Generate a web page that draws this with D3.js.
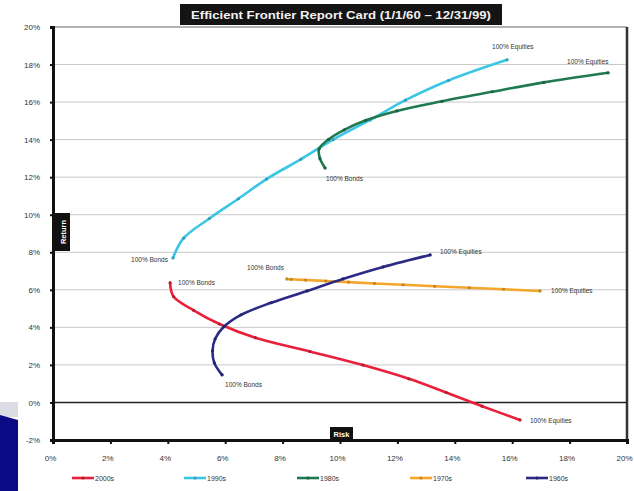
<!DOCTYPE html>
<html>
<head>
<meta charset="utf-8">
<script src="https://cdn.jsdelivr.net/npm/d3@7"></script>
<style>
  html, body { margin: 0; padding: 0; background: #fff; }
  svg { display: block; font-family: "Liberation Sans", Arial, sans-serif; }
</style>
</head>
<body>
<svg id="chart" width="634" height="491"></svg>
<script>
// Risk (std. dev., %) and return (%) for each decade's stock/bond mix,
// from 100% bonds to 100% equities in 10% steps.
const decades = ["2000s", "1990s", "1980s", "1970s", "1960s"];
const colors = ["#e8203a", "#3cc6e6", "#1f7a52", "#f4a52a", "#2b2b85"];

const risk2000s = [4.08, 4.2, 4.9, 5.8, 7.05, 8.95, 10.8, 12.4, 13.7, 14.95, 16.27];
const ret2000s  = [6.37, 5.64, 4.91, 4.18, 3.45, 2.72, 1.99, 1.26, 0.53, -0.20, -0.93];

const risk1990s = [4.18, 4.55, 5.45, 6.46, 7.44, 8.63, 9.76, 11.05, 12.28, 13.78, 15.82];
const ret1990s  = [7.7, 8.75, 9.8, 10.85, 11.9, 12.95, 14.0, 15.05, 16.1, 17.15, 18.25];

const risk1980s = [9.48, 9.3, 9.27, 9.6, 10.15, 10.9, 11.98, 13.55, 15.3, 17.1, 19.34];
const ret1980s  = [12.49, 13.0, 13.5, 14.01, 14.52, 15.03, 15.53, 16.04, 16.55, 17.05, 17.56];

const risk1970s = [8.15, 8.3, 8.8, 9.5, 10.3, 11.2, 12.2, 13.3, 14.5, 15.7, 16.97];
const ret1970s  = [6.58, 6.56, 6.52, 6.47, 6.41, 6.34, 6.27, 6.19, 6.11, 6.03, 5.94];

const risk1960s = [5.89, 5.62, 5.56, 5.65, 5.95, 6.55, 7.6, 8.85, 10.1, 11.5, 13.14];
const ret1960s  = [1.47, 2.11, 2.75, 3.39, 4.03, 4.67, 5.31, 5.94, 6.58, 7.22, 7.86];

const riskSeries = [risk2000s, risk1990s, risk1980s, risk1970s, risk1960s];
const returnSeries = [ret2000s, ret1990s, ret1980s, ret1970s, ret1960s];

const xTicks = [0, 2, 4, 6, 8, 10, 12, 14, 16, 18, 20];
const yTicks = [-2, 0, 2, 4, 6, 8, 10, 12, 14, 16, 18, 20];

const title = "Efficient Frontier Report Card (1/1/60 \u2013 12/31/99)";
const bondLabel = "100% Bonds";
const equityLabel = "100% Equities";

// label offsets for each decade's end points: [dx, dy, anchor]
const bondLabelPos = [[8, 2, "start"], [-5, 4, "end"], [1, 13, "start"], [-3, -9, "end"], [3, 12, "start"]];
const equityLabelPos = [[10, 3, "start"], [-15, -11, "start"], [-41, -9, "start"], [11, 2, "start"], [10, -1, "start"]];

const svg = d3.select("#chart");
const plotLeft = 53, plotRight = 627, plotTop = 27, plotBottom = 440;

const x = d3.scaleLinear().domain([0, 20]).range([plotLeft, plotRight]);
const y = d3.scaleLinear().domain([-2, 20]).range([plotBottom, plotTop]);

// slide background strip at lower left
svg.append("rect").attr("x", 0).attr("y", 402).attr("width", 18).attr("height", 15).attr("fill", "#dcdce4");
svg.append("path").attr("d", "M0,415 L18,420 L18,491 L0,491 Z").attr("fill", "#0a0a84");

// grid
svg.append("g").selectAll("line").data(yTicks.filter(d => d !== 0 && d !== -2 && d !== 20)).join("line")
  .attr("x1", plotLeft).attr("x2", plotRight)
  .attr("y1", d => y(d)).attr("y2", d => y(d))
  .attr("stroke", "#c8c8c8").attr("stroke-width", 1);

// plot frame (top and right)
svg.append("line").attr("x1", plotLeft).attr("x2", plotRight).attr("y1", plotTop).attr("y2", plotTop)
  .attr("stroke", "#9a9a9a").attr("stroke-width", 1.5);
svg.append("line").attr("x1", plotRight).attr("x2", plotRight).attr("y1", plotTop).attr("y2", plotBottom)
  .attr("stroke", "#333").attr("stroke-width", 2.5);

// zero line
svg.append("line").attr("x1", plotLeft).attr("x2", plotRight).attr("y1", y(0)).attr("y2", y(0))
  .attr("stroke", "#222").attr("stroke-width", 1.6);

// axes
const fmt = d => d + "%";
const yAxis = svg.append("g").attr("transform", `translate(${plotLeft},0)`)
  .call(d3.axisLeft(y).tickValues(yTicks).tickFormat(fmt).tickSize(3).tickPadding(10));
const xAxis = svg.append("g").attr("transform", `translate(0,${plotBottom})`)
  .call(d3.axisBottom(x).tickValues(xTicks).tickFormat(fmt).tickSize(4).tickPadding(11));
[yAxis, xAxis].forEach(g => {
  g.select(".domain").attr("stroke", "#111").attr("stroke-width", 3);
  g.selectAll(".tick line").attr("stroke", "#111").attr("stroke-width", 2);
  g.selectAll(".tick text").attr("fill", "#333").style("font-size", "8px");
});
xAxis.selectAll(".tick text").attr("dx", -3);

// curves
const line = d3.line().x(d => x(d[0])).y(d => y(d[1])).curve(d3.curveCatmullRom.alpha(0.5));
decades.forEach((name, i) => {
  const pts = riskSeries[i].map((r, k) => [r, returnSeries[i][k]]);
  const g = svg.append("g");
  g.append("path").attr("d", line(pts)).attr("fill", "none")
    .attr("stroke", colors[i]).attr("stroke-width", 2.6).attr("stroke-linecap", "round");
  g.selectAll("circle").data(pts).join("circle")
    .attr("cx", d => x(d[0])).attr("cy", d => y(d[1])).attr("r", 1.6)
    .attr("fill", d3.color(colors[i]).darker(0.6));
  const first = pts[0], last = pts[pts.length - 1];
  const bp = bondLabelPos[i], ep = equityLabelPos[i];
  g.append("text").attr("x", x(first[0]) + bp[0]).attr("y", y(first[1]) + bp[1])
    .attr("text-anchor", bp[2]).style("font-size", "6.5px").attr("fill", "#333").text(bondLabel);
  g.append("text").attr("x", x(last[0]) + ep[0]).attr("y", y(last[1]) + ep[1])
    .attr("text-anchor", ep[2]).style("font-size", "6.5px").attr("fill", "#333").text(equityLabel);
});

// axis title boxes
svg.append("rect").attr("x", 55).attr("y", 213).attr("width", 15).attr("height", 38).attr("fill", "#111");
svg.append("text").attr("transform", "translate(65.5,232) rotate(-90)").attr("text-anchor", "middle")
  .style("font-size", "7.5px").style("font-weight", "bold").attr("fill", "#fff").text("Return");
svg.append("rect").attr("x", 330).attr("y", 427).attr("width", 23).attr("height", 13).attr("fill", "#111");
svg.append("text").attr("x", 341.5).attr("y", 436.5).attr("text-anchor", "middle")
  .style("font-size", "7.5px").style("font-weight", "bold").attr("fill", "#fff").text("Risk");

// title
svg.append("rect").attr("x", 180).attr("y", 4).attr("width", 322).attr("height", 21).attr("fill", "#141414");
svg.append("text").attr("x", 341).attr("y", 18.5).attr("text-anchor", "middle")
  .attr("textLength", 300).attr("lengthAdjust", "spacingAndGlyphs")
  .style("font-size", "10.5px").style("font-weight", "bold").attr("fill", "#f2f2f2").text(title);

// legend
const legendX = [72, 184, 297, 410, 526];
const legend = svg.append("g").selectAll("g").data(decades).join("g")
  .attr("transform", (d, i) => `translate(${legendX[i]},478)`);
legend.append("line").attr("x1", 0).attr("x2", 22).attr("y1", 0).attr("y2", 0)
  .attr("stroke", (d, i) => colors[i]).attr("stroke-width", 2.6);
legend.append("circle").attr("cx", 11).attr("cy", 0).attr("r", 1.6)
  .attr("fill", (d, i) => d3.color(colors[i]).darker(0.6));
legend.append("text").attr("x", 23).attr("y", 2.5).style("font-size", "7px").attr("fill", "#333").text(d => d);
</script>
</body>
</html>
